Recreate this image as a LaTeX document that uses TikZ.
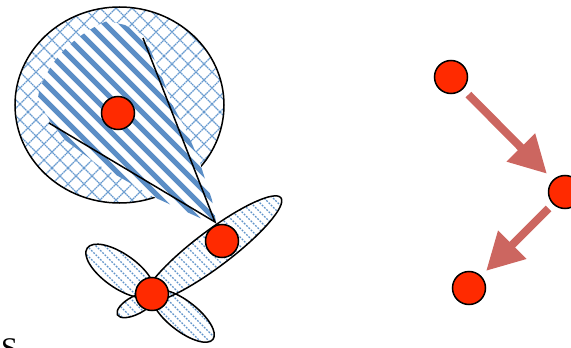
\documentclass[tikz,border=0pt]{standalone}
\usepackage{fontspec}
\setmainfont{Liberation Serif}
\usetikzlibrary{arrows.meta}
\definecolor{hatchblue}{HTML}{5B8EC6}
\definecolor{crossblue}{HTML}{6498CE}
\definecolor{lobeblue}{HTML}{5F93CA}
\definecolor{nodered}{HTML}{FF2A00}
\definecolor{arrowred}{HTML}{CC6660}
\tikzset{
  crossline/.style={draw=crossblue, line width=1.1pt, dash pattern=on 1.6pt off 0.6pt},
  stripeline/.style={draw=hatchblue, line width=5pt},
  lobeline/.style={draw=lobeblue, line width=1.4pt, dash pattern=on 1.8pt off 1.4pt},
  outline/.style={draw=black, line width=1.5pt},
  dot/.style={circle, draw=black, line width=1.5pt, fill=nodered, minimum size=33pt, inner sep=0pt},
  arr/.style={draw=arrowred, line width=8pt, -{Triangle[length=37pt,width=38pt]}},
}
\newcommand\mylobehatch{\foreach \c in {-60,-51,...,300} {\draw[lobeline] (\c,180) -- ++(190,190);}}
\begin{document}
\begin{tikzpicture}[x=1pt,y=-1pt]
\useasboundingbox (0,0) rectangle (571,348);

% big circle with cross hatch
\coordinate (bc) at (119.5,105);
\begin{scope}
  \clip (bc) ellipse [x radius=104.5pt, y radius=98pt];
  \foreach \c in {-264,-248,...,250} {\draw[crossline] (\c,-20) -- ++(280,280);}
  \foreach \c in {0,16,...,480} {\draw[crossline] (\c,-20) -- ++(-280,280);}
\end{scope}
\draw[outline] (bc) ellipse [x radius=104.5pt, y radius=98pt];

% striped wedge
\def\wedgeregion{(216,222) -- (212,200) -- (206,182) -- (199,160) -- (186,130) -- (173,106) -- (160,72) -- (144,36)
  -- (125,25) -- (107,21)
  .. controls (85,30) and (62,48) .. (50,68) .. controls (43,80) and (38,90) .. (38,100)
  -- (50,121) -- (65,140) -- (97,164) -- (156,198) -- (200,218) -- cycle}
\fill[white] \wedgeregion;
\begin{scope}
  \clip \wedgeregion;
  \foreach \c in {-245,-228,...,180} {\draw[stripeline] (\c,-20) -- ++(300,300);}
\end{scope}
\coordinate (apex) at (215,222);
\coordinate (wr) at (143,38);
\coordinate (wl) at (49,123);
\draw[outline] (wl) -- (apex) -- (wr);

% lobes
\coordinate (l1) at (213,249);
\coordinate (l2) at (120,271);
\coordinate (l3) at (183,316);
\coordinate (l4) at (136,305);
\begin{scope}
  \clip[rotate around={37:(l1)}] (l1) ellipse [x radius=85pt, y radius=18pt];
  \fill[white] (100,150) rectangle (300,360);
  \mylobehatch
\end{scope}
\begin{scope}
  \clip[rotate around={-35:(l2)}] (l2) ellipse [x radius=40pt, y radius=17pt];
  \fill[white] (60,200) rectangle (200,360);
  \mylobehatch
\end{scope}
\begin{scope}
  \clip[rotate around={-38:(l3)}] (l3) ellipse [x radius=38pt, y radius=15pt];
  \fill[white] (100,250) rectangle (260,360);
  \mylobehatch
\end{scope}
\begin{scope}
  \clip[rotate around={28:(l4)}] (l4) ellipse [x radius=21pt, y radius=9pt];
  \fill[white] (100,280) rectangle (180,340);
  \mylobehatch
\end{scope}
\draw[outline, rotate around={37:(l1)}] (l1) ellipse [x radius=85pt, y radius=18pt];
\draw[outline, rotate around={-35:(l2)}] (l2) ellipse [x radius=40pt, y radius=17pt];
\draw[outline, rotate around={-38:(l3)}] (l3) ellipse [x radius=38pt, y radius=15pt];
\draw[outline, rotate around={28:(l4)}] (l4) ellipse [x radius=21pt, y radius=9pt];

% nodes
\node[dot] (n1) at (118,113) {};
\node[dot] (n2) at (222,241) {};
\node[dot] (n3) at (152,294) {};
\node[dot] (n4) at (451,77) {};
\node[dot] (n5) at (565,192) {};
\node[dot] (n6) at (469,288) {};

\draw[arr, shorten <=7.5pt, shorten >=8.5pt] (n4) -- (n5);
\draw[arr, shorten <=6pt, shorten >=7pt] (n5) -- (n6);

\node[font=\fontsize{30}{30}\selectfont, anchor=base west, inner sep=0pt] (s) at (1,358) {S};
\end{tikzpicture}
\end{document}
